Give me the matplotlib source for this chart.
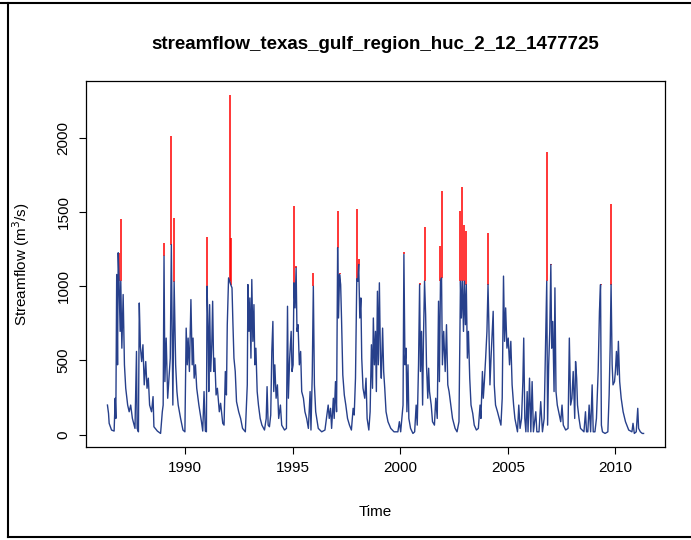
import matplotlib
matplotlib.use("Agg")
import matplotlib.pyplot as plt
from matplotlib.lines import Line2D
import numpy as np

plt.rcParams["font.family"] = ["Liberation Sans", "DejaVu Sans"]

# streamflow trace (decimal year, m3/s)
flow = [
    (1986.39, 200), (1986.44, 144), (1986.47, 77), (1986.58, 32), (1986.70, 25), (1986.75, 246),
    (1986.78, 110), (1986.82, 1079), (1986.86, 471), (1986.89, 1225), (1986.93, 1034), (1986.98, 696),
    (1987.01, 1034), (1987.06, 583), (1987.12, 944), (1987.18, 471), (1987.24, 313), (1987.33, 200),
    (1987.40, 155), (1987.47, 200), (1987.55, 110), (1987.67, 43), (1987.74, 561), (1987.77, 43),
    (1987.83, 20), (1987.87, 887), (1987.92, 595), (1987.98, 493), (1988.04, 606), (1988.10, 336),
    (1988.17, 493), (1988.23, 313), (1988.29, 381), (1988.35, 200), (1988.44, 155), (1988.51, 257),
    (1988.55, 54), (1988.71, 25), (1988.86, 9), (1988.94, 155), (1988.98, 200), (1989.02, 1203),
    (1989.06, 358), (1989.12, 651), (1989.19, 246), (1989.25, 381), (1989.31, 516), (1989.36, 1280),
    (1989.43, 200), (1989.49, 1030), (1989.56, 471), (1989.62, 291), (1989.68, 200), (1989.79, 110),
    (1989.90, 32), (1989.99, 20), (1990.05, 718), (1990.10, 471), (1990.14, 651), (1990.20, 426),
    (1990.27, 910), (1990.33, 471), (1990.37, 651), (1990.42, 381), (1990.48, 471), (1990.54, 313),
    (1990.64, 200), (1990.76, 88), (1990.82, 25), (1990.88, 291), (1990.94, 25),
    (1990.99, 20), (1991.02, 1000), (1991.07, 696), (1991.10, 291), (1991.14, 876), (1991.19, 426),
    (1991.24, 606), (1991.28, 899), (1991.33, 426), (1991.38, 516), (1991.44, 268), (1991.50, 313),
    (1991.59, 155), (1991.65, 212), (1991.75, 77), (1991.81, 65), (1991.87, 426), (1991.92, 268),
    (1991.96, 741), (1992.02, 1056), (1992.07, 1034), (1992.12, 1011), (1992.18, 989), (1992.22, 763),
    (1992.27, 516), (1992.33, 426), (1992.39, 223), (1992.49, 155), (1992.58, 110), (1992.67, 43),
    (1992.80, 20), (1992.84, 155), (1992.89, 336), (1992.92, 1011), (1992.97, 696), (1993.01, 921),
    (1993.06, 516), (1993.10, 1045), (1993.15, 629), (1993.20, 876), (1993.24, 471), (1993.29, 583),
    (1993.35, 291), (1993.41, 200), (1993.49, 110), (1993.57, 65), (1993.69, 32), (1993.77, 110),
    (1993.81, 324), (1993.86, 65), (1993.92, 54), (1993.98, 133), (1994.03, 561), (1994.08, 763),
    (1994.12, 291), (1994.17, 471), (1994.23, 246), (1994.29, 336), (1994.35, 110), (1994.43, 200),
    (1994.49, 65), (1994.62, 32), (1994.71, 43), (1994.76, 865), (1994.80, 246), (1994.86, 516),
    (1994.93, 696), (1994.97, 426), (1995.02, 471), (1995.06, 1023), (1995.11, 854), (1995.16, 1124),
    (1995.20, 696), (1995.25, 741), (1995.31, 471), (1995.37, 561), (1995.42, 291), (1995.50, 246),
    (1995.57, 155), (1995.65, 110), (1995.73, 43), (1995.81, 291), (1995.85, 32), (1995.91, 403),
    (1995.96, 1000), (1996.01, 336), (1996.07, 155),
    (1996.19, 43), (1996.35, 20), (1996.50, 32), (1996.65, 200), (1996.70, 110), (1996.76, 178),
    (1996.81, 43), (1996.89, 246), (1996.93, 110), (1996.99, 358), (1997.04, 155), (1997.09, 1259),
    (1997.13, 786), (1997.18, 1079), (1997.23, 1011), (1997.27, 786), (1997.33, 403), (1997.40, 268),
    (1997.47, 200), (1997.55, 110), (1997.64, 65), (1997.73, 32), (1997.81, 178), (1997.86, 133),
    (1997.92, 381), (1997.98, 1050), (1998.03, 1034), (1998.07, 1146), (1998.12, 786), (1998.17, 921),
    (1998.21, 516), (1998.27, 313), (1998.35, 246), (1998.41, 381), (1998.46, 110), (1998.54, 32),
    (1998.60, 155), (1998.66, 606), (1998.71, 313), (1998.75, 786), (1998.80, 471), (1998.85, 696),
    (1998.89, 291), (1998.94, 966), (1998.98, 471), (1999.03, 1023), (1999.08, 516), (1999.12, 381),
    (1999.18, 718), (1999.23, 426), (1999.28, 313), (1999.34, 155), (1999.43, 88), (1999.56, 43),
    (1999.71, 20), (1999.89, 20), (1999.96, 88), (2000.02, 20), (2000.13, 200), (2000.17, 1214),
    (2000.22, 471), (2000.27, 583), (2000.31, 155), (2000.36, 471), (2000.40, 110), (2000.48, 43),
    (2000.59, 9), (2000.67, 20), (2000.74, 200), (2000.79, 65), (2000.85, 471), (2000.90, 1011),
    (2000.94, 426), (2000.99, 696), (2001.04, 200), (2001.08, 651), (2001.13, 1034), (2001.18, 808),
    (2001.22, 471), (2001.28, 246),
    (2001.32, 448), (2001.36, 291), (2001.44, 200), (2001.50, 88), (2001.59, 65), (2001.65, 246),
    (2001.72, 110), (2001.78, 899), (2001.82, 358), (2001.87, 1034), (2001.92, 1056), (2001.96, 471),
    (2002.02, 696), (2002.09, 426), (2002.15, 741), (2002.21, 336), (2002.27, 291), (2002.33, 223),
    (2002.43, 110), (2002.55, 43), (2002.64, 20), (2002.73, 88), (2002.80, 1034), (2002.84, 786),
    (2002.89, 1034), (2002.94, 696), (2002.98, 1034), (2003.03, 741), (2003.07, 1011), (2003.12, 516),
    (2003.17, 696), (2003.23, 381), (2003.29, 200), (2003.37, 144), (2003.44, 65), (2003.54, 32),
    (2003.63, 43), (2003.71, 200), (2003.75, 110), (2003.82, 426), (2003.86, 246), (2003.91, 358),
    (2003.97, 516), (2004.03, 696), (2004.08, 1011), (2004.12, 741), (2004.17, 336), (2004.22, 516),
    (2004.28, 696), (2004.32, 831), (2004.37, 336), (2004.43, 200), (2004.52, 155), (2004.60, 110),
    (2004.68, 65), (2004.74, 246), (2004.80, 1068), (2004.85, 629), (2004.90, 854), (2004.96, 583),
    (2005.02, 651), (2005.08, 471), (2005.14, 629), (2005.20, 336), (2005.27, 200), (2005.33, 110),
    (2005.39, 65), (2005.45, 20), (2005.51, 200), (2005.57, 43), (2005.64, 110), (2005.70, 358),
    (2005.74, 651), (2005.79, 110), (2005.84, 20), (2005.90, 291), (2005.94, 20), (2006.01, 381),
    (2006.07, 20), (2006.13, 358), (2006.19, 20),
    (2006.30, 155), (2006.35, 20), (2006.45, 20), (2006.53, 223), (2006.61, 20), (2006.69, 110),
    (2006.76, 673), (2006.81, 1034), (2006.85, 65), (2006.90, 471), (2006.95, 696), (2007.00, 1146),
    (2007.04, 583), (2007.09, 763), (2007.15, 291), (2007.19, 989), (2007.24, 291), (2007.30, 200),
    (2007.38, 144), (2007.46, 88), (2007.52, 200), (2007.58, 65), (2007.69, 32), (2007.80, 43),
    (2007.86, 651), (2007.92, 200), (2007.98, 246), (2008.04, 426), (2008.11, 110), (2008.15, 493),
    (2008.20, 381), (2008.24, 200), (2008.31, 110), (2008.38, 43), (2008.54, 20), (2008.61, 155),
    (2008.66, 20), (2008.72, 20), (2008.78, 200), (2008.85, 20), (2008.92, 336), (2008.97, 20),
    (2009.05, 20), (2009.12, 110), (2009.20, 426), (2009.26, 831), (2009.31, 1011), (2009.35, 65),
    (2009.40, 20), (2009.52, 9), (2009.65, 20), (2009.71, 268), (2009.76, 606), (2009.80, 1011),
    (2009.85, 471), (2009.89, 336), (2009.96, 358), (2010.00, 426), (2010.05, 561), (2010.10, 403),
    (2010.14, 629), (2010.20, 358), (2010.27, 246), (2010.36, 155), (2010.47, 88), (2010.62, 32),
    (2010.77, 20), (2010.82, 77), (2010.88, 9), (2010.97, 20), (2011.04, 178), (2011.08, 43),
    (2011.16, 20), (2011.25, 9), (2011.31, 9),
]

# red peak segments: year, top of peak, where the blue trace stops
peak_year = [1986.93, 1987.00, 1989.02, 1989.36, 1989.49, 1991.02, 1992.07, 1992.12, 1995.06,
             1995.16, 1995.96, 1997.09, 1997.18, 1998.00, 1998.07, 2000.17, 2000.90, 2001.13,
             2001.87, 2001.93, 2002.80, 2002.89, 2002.98, 2003.07, 2004.08, 2006.81, 2007.00,
             2009.31, 2009.80]
peak_top = [1225, 1450, 1290, 2013, 1460, 1333, 2290, 1326, 1540,
            1135, 1090, 1507, 1090, 1518, 1180, 1230, 1022, 1399,
            1270, 1642, 1507, 1669, 1412, 1372, 1360, 1901, 1151,
            1016, 1552]
peak_base = [1034, 1034, 1203, 1280, 1030, 1000, 1034, 1011, 1023,
             1124, 1000, 1259, 1079, 1050, 1146, 1214, 1011, 1034,
             1034, 1056, 1034, 1034, 1034, 1011, 1011, 1034, 1146,
             1011, 1011]

t = np.array([p[0] for p in flow])
q = np.array([p[1] for p in flow])

fig = plt.figure(figsize=(6.91, 5.40), dpi=100)
ax = fig.add_axes([86 / 691, 93 / 540, 579 / 691, 366 / 540])

ax.vlines(peak_year, peak_base, peak_top, color="#ff0000", lw=1.1)
ax.plot(t, q, color="#27408b", lw=1.0)
ax.margins(x=0.04, y=0.04)

ax.set_xticks([1990, 1995, 2000, 2005, 2010])
ax.set_yticks([0, 500, 1000, 1500, 2000])
ax.tick_params(direction="out", length=5, width=0.8, labelsize=11, pad=5)
ax.tick_params(axis="y", pad=6)
plt.setp(ax.get_yticklabels(), rotation=90, va="center")
for s in ax.spines.values():
    s.set_linewidth(0.9)

ax.set_xlabel("Time", fontsize=11, labelpad=22)
ax.set_ylabel("Streamflow (m$^3$/s)", fontsize=11, labelpad=18)
fig.suptitle("streamflow_texas_gulf_region_huc_2_12_1477725", x=375.5 / 691, y=1 - 36 / 540,
             fontsize=13.5, fontweight="bold")

# outer frame of the screenshot
fig.add_artist(Line2D([0, 1], [1 - 3 / 540, 1 - 3 / 540], color="black", lw=1.5, transform=fig.transFigure))
fig.add_artist(Line2D([8 / 691, 8 / 691], [1 - 3 / 540, 3 / 540], color="black", lw=1.5, transform=fig.transFigure))
fig.add_artist(Line2D([8 / 691, 1], [3 / 540, 3 / 540], color="black", lw=1.5, transform=fig.transFigure))

fig.savefig("out.png", dpi=100)
